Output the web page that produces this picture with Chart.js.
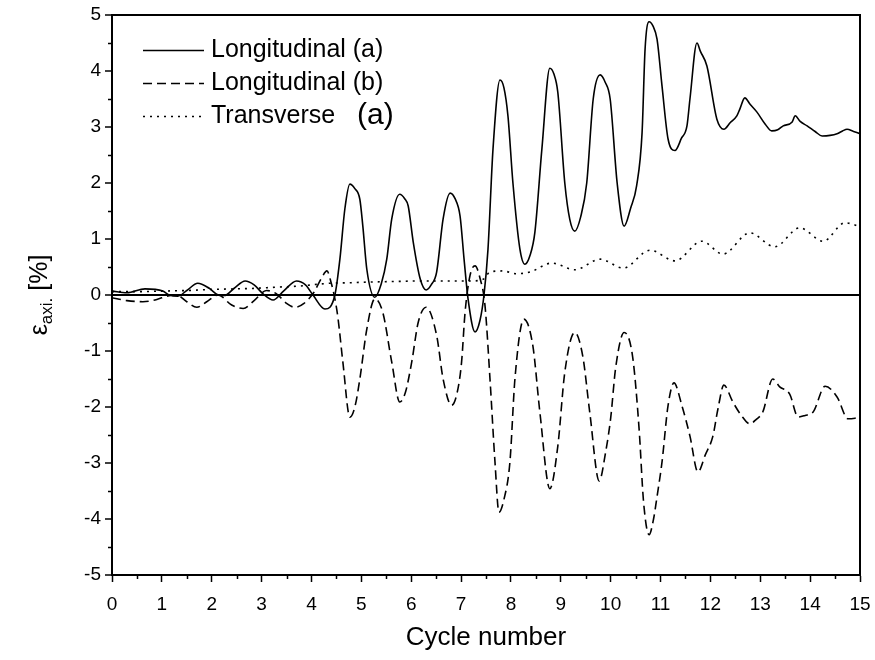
<!DOCTYPE html>
<html>
<head>
<meta charset="utf-8">
<script src="https://cdn.jsdelivr.net/npm/chart.js@4.4.1/dist/chart.umd.min.js"></script>
<style>
  html, body { margin: 0; padding: 0; background: #fff; }
  #wrap { width: 875px; height: 660px; }
</style>
</head>
<body>
<div id="wrap"><canvas id="strainChart" width="875" height="660"></canvas></div>
<script>
/***************************************************/
/********************* DATA ************************/
/***************************************************/
const seriesNames = ['Longitudinal (a)', 'Longitudinal (b)', 'Transverse'];
const xTicks = [0, 1, 2, 3, 4, 5, 6, 7, 8, 9, 10, 11, 12, 13, 14, 15];
const yTicks = [-5, -4, -3, -2, -1, 0, 1, 2, 3, 4, 5];

// Longitudinal (a) - solid
const longAx = [0, 0.3, 0.66, 1.02, 1.15, 1.32, 1.5, 1.72, 1.95, 2.13, 2.25, 2.45, 2.67, 2.85, 3.03, 3.23, 3.45, 3.7, 3.88, 4.03, 4.27, 4.47,
  4.57, 4.67, 4.77, 4.87, 4.97, 5.03, 5.11, 5.27, 5.4, 5.51, 5.61, 5.77, 5.87, 5.94, 6.04, 6.18, 6.3, 6.4, 6.51, 6.64, 6.78, 6.88, 6.98,
  7.06, 7.14, 7.28, 7.38, 7.46, 7.54, 7.64, 7.78, 7.86, 7.94, 8.04, 8.18, 8.28, 8.38, 8.48, 8.62, 8.78, 8.86, 8.94, 9.08, 9.18, 9.28,
  9.4, 9.52, 9.65, 9.79, 9.89, 9.99, 10.13, 10.27, 10.4, 10.52, 10.63, 10.69, 10.77, 10.85, 10.93, 11.03, 11.15, 11.29, 11.42, 11.53,
  11.59, 11.73, 11.8, 11.93, 12.13, 12.27, 12.4, 12.53, 12.59, 12.69, 12.8, 12.93, 13.1, 13.23, 13.35, 13.46, 13.64, 13.7, 13.8, 13.94,
  14.1, 14.24, 14.4, 14.54, 14.65, 14.74, 14.87, 15];
const longAy = [0.07, 0.04, 0.11, 0.07, 0.0, -0.02, 0.08, 0.21, 0.12, 0.0, -0.01, 0.12, 0.25, 0.18, 0.02, -0.09, 0.08, 0.25, 0.18, 0.0, -0.25, 0.0,
  0.64, 1.54, 1.98, 1.9, 1.71, 1.23, 0.46, -0.04, 0.2, 0.64, 1.36, 1.8, 1.72, 1.59, 0.95, 0.29, 0.09, 0.18, 0.41, 1.36, 1.82, 1.72, 1.41,
  0.64, -0.07, -0.66, -0.45, 0.0, 0.82, 2.6, 3.84, 3.7, 3.2, 2.0, 0.82, 0.55, 0.7, 1.12, 2.6, 4.05, 3.95, 3.62, 2.0, 1.35, 1.14,
  1.4, 2.0, 3.5, 3.93, 3.8, 3.5, 2.0, 1.23, 1.55, 1.95, 2.9, 4.39, 4.88, 4.8, 4.57, 3.73, 2.79, 2.58, 2.8, 3.02,
  3.5, 4.5, 4.35, 4.09, 3.14, 2.96, 3.08, 3.2, 3.32, 3.52, 3.4, 3.27, 3.05, 2.93, 2.95, 3.02, 3.09, 3.2, 3.1, 3.02,
  2.92, 2.84, 2.85, 2.88, 2.93, 2.96, 2.92, 2.88];

// Longitudinal (b) - dashed
const longBx = [0, 0.3, 0.62, 0.9, 1.1, 1.3, 1.5, 1.7, 1.9, 2.13, 2.4, 2.63, 2.85, 3.1, 3.3, 3.5, 3.67, 3.85, 4.05, 4.2, 4.31, 4.4, 4.47,
  4.53, 4.63, 4.77, 4.87, 4.97, 5.11, 5.27, 5.43, 5.61, 5.77, 5.88, 6.01, 6.14, 6.3, 6.51, 6.64, 6.81, 6.92, 7.01, 7.08, 7.18, 7.28, 7.38,
  7.48, 7.58, 7.68, 7.76, 7.86, 7.98, 8.08, 8.26, 8.44, 8.58, 8.78, 8.94, 9.08, 9.28, 9.44, 9.58, 9.77, 9.9, 10.0, 10.1, 10.27, 10.44,
  10.57, 10.66, 10.77, 10.86, 10.93, 11.03, 11.15, 11.27, 11.43, 11.59, 11.75, 11.9, 12.05, 12.15, 12.27, 12.45, 12.62, 12.79, 12.92,
  13.05, 13.25, 13.39, 13.59, 13.76, 13.9, 14.06, 14.3, 14.54, 14.76, 14.9, 15];
const longBy = [-0.05, -0.1, -0.12, -0.08, -0.02, 0.0, -0.12, -0.22, -0.12, 0.0, -0.18, -0.24, -0.1, 0.08, 0.02, -0.15, -0.22, -0.15, 0.05, 0.3, 0.43, 0.2, -0.07,
  -0.4, -1.2, -2.18, -2.0, -1.5, -0.61, -0.07, -0.31, -1.2, -1.91, -1.75, -1.2, -0.49, -0.22, -0.72, -1.5, -1.97, -1.75, -1.2, -0.31, 0.35, 0.52, 0.3,
  -0.19, -1.5, -2.98, -3.88, -3.65, -2.98, -1.5, -0.43, -0.91, -2.09, -3.46, -2.7, -1.38, -0.67, -1.09, -2.09, -3.32, -2.8, -2.2, -1.3, -0.67, -1.1,
  -2.39, -3.7, -4.28, -4.0, -3.6, -2.98, -1.98, -1.57, -1.98, -2.52, -3.16, -2.85, -2.52, -2.04, -1.61, -1.91, -2.15, -2.3, -2.22,
  -2.09, -1.5, -1.64, -1.77, -2.18, -2.15, -2.09, -1.63, -1.82, -2.21, -2.2, -2.18];

// Transverse - dotted
const transX = [0, 0.5, 1, 1.5, 2, 2.5, 2.9, 3.3, 3.77, 4.1, 4.37, 4.8, 5.1, 5.6, 6.18, 6.7, 7.18, 7.44, 7.58, 7.84, 8.1, 8.38, 8.82,
  9.28, 9.79, 10.25, 10.79, 11.29, 11.83, 12.25, 12.79, 13.29, 13.79, 14.26, 14.7, 15];
const transY = [0.06, 0.06, 0.07, 0.08, 0.1, 0.11, 0.12, 0.14, 0.16, 0.19, 0.21, 0.22, 0.23, 0.24, 0.25, 0.25, 0.25, 0.28, 0.41, 0.43, 0.38, 0.41, 0.57,
  0.45, 0.64, 0.48, 0.8, 0.61, 0.96, 0.73, 1.11, 0.86, 1.2, 0.96, 1.29, 1.22];

/***************************************************/
/******************** HELPERS **********************/
/***************************************************/
const FONT = '"Liberation Sans", Arial, sans-serif';

function toPoints(xs, ys) {
    return xs.map((x, i) => ({ x: x, y: ys[i] }));
}

// minor ticks, plot frame, y title with subscript and the inside legend
const extrasPlugin = {
    id: 'extras',
    afterDraw(chart) {
        const ctx = chart.ctx;
        const area = chart.chartArea;
        const xs = chart.scales.x;
        const ys = chart.scales.y;
        ctx.save();
        ctx.strokeStyle = '#000';
        ctx.lineWidth = 1.5;

        // minor ticks at the half units
        ctx.beginPath();
        for (let i = 0; i < xTicks.length - 1; i++) {
            const px = Math.round(xs.getPixelForValue(xTicks[i] + 0.5)) + 0.5;
            ctx.moveTo(px, area.bottom);
            ctx.lineTo(px, area.bottom + 4);
        }
        for (let i = 0; i < yTicks.length - 1; i++) {
            const py = Math.round(ys.getPixelForValue(yTicks[i] + 0.5)) + 0.5;
            ctx.moveTo(area.left, py);
            ctx.lineTo(area.left - 4, py);
        }
        ctx.stroke();

        // frame top / right
        ctx.lineWidth = 2;
        ctx.beginPath();
        ctx.moveTo(area.left, area.top);
        ctx.lineTo(area.right, area.top);
        ctx.lineTo(area.right, area.bottom);
        ctx.stroke();

        // y axis title: epsilon with subscript "axi."
        ctx.fillStyle = '#000';
        ctx.translate(40, (area.top + area.bottom) / 2);
        ctx.rotate(-Math.PI / 2);
        ctx.textBaseline = 'middle';
        const big = '25px ' + FONT;
        const small = '17px ' + FONT;
        ctx.font = big;
        const w1 = ctx.measureText('\u03B5').width;
        const w3 = ctx.measureText(' [%]').width;
        ctx.font = small;
        const w2 = ctx.measureText('axi.').width;
        let x0 = -(w1 + w2 + w3) / 2;
        ctx.font = big;
        ctx.textAlign = 'left';
        ctx.fillText('\u03B5', x0, 0);
        ctx.font = small;
        ctx.fillText('axi.', x0 + w1, 7);
        ctx.font = big;
        ctx.fillText(' [%]', x0 + w1 + w2, 0);
        ctx.restore();

        // legend inside the plot
        ctx.save();
        const rowsY = [50, 83, 116];
        chart.data.datasets.forEach((ds, i) => {
            ctx.strokeStyle = '#000';
            ctx.lineWidth = ds.borderWidth;
            ctx.setLineDash(ds.borderDash || []);
            ctx.beginPath();
            ctx.moveTo(143, rowsY[i] + 0.5);
            ctx.lineTo(204, rowsY[i] + 0.5);
            ctx.stroke();
            ctx.setLineDash([]);
            ctx.fillStyle = '#000';
            ctx.font = '25px ' + FONT;
            ctx.textBaseline = 'middle';
            ctx.textAlign = 'left';
            ctx.fillText(ds.label, 211, rowsY[i]);
        });
        ctx.font = '30px ' + FONT;
        ctx.fillText('(a)', 357, rowsY[2]);
        ctx.restore();
    }
};

/***************************************************/
/********************* CHART ***********************/
/***************************************************/
function drawStrainChart() {
    const canvas = document.getElementById('strainChart').getContext('2d');
    const chart = new Chart(canvas, {
        type: 'line',
        data: {
            datasets: [
                {
                    label: seriesNames[0],
                    data: toPoints(longAx, longAy),
                    borderColor: '#000',
                    borderWidth: 1.6,
                    borderDash: [],
                },
                {
                    label: seriesNames[1],
                    data: toPoints(longBx, longBy),
                    borderColor: '#000',
                    borderWidth: 1.6,
                    borderDash: [9, 5],
                },
                {
                    label: seriesNames[2],
                    data: toPoints(transX, transY),
                    borderColor: '#000',
                    borderWidth: 1.6,
                    borderDash: [2, 5],
                }
            ]
        },
        options: {
            responsive: false,
            animation: false,
            events: [],
            elements: {
                point: { radius: 0 },
                line: { cubicInterpolationMode: 'monotone', fill: false }
            },
            layout: { padding: { left: 0, right: 15, top: 15, bottom: 0 } },
            plugins: {
                legend: { display: false },
                tooltip: { enabled: false }
            },
            scales: {
                x: {
                    type: 'linear',
                    min: 0,
                    max: 15,
                    afterFit: (s) => { s.height = 85; s.paddingLeft = 0; s.paddingRight = 0; },
                    afterBuildTicks: (s) => { s.ticks = xTicks.map(v => ({ value: v })); },
                    ticks: {
                        color: '#000',
                        font: { family: FONT, size: 19 },
                        padding: 11,
                        maxRotation: 0,
                        autoSkip: false
                    },
                    grid: {
                        drawOnChartArea: false,
                        drawTicks: true,
                        tickLength: 7,
                        tickColor: '#000',
                        tickWidth: 1.5
                    },
                    border: { display: true, color: '#000', width: 2 },
                    title: {
                        display: true,
                        text: 'Cycle number',
                        color: '#000',
                        font: { family: FONT, size: 26 },
                        padding: { top: 4, bottom: 7 }
                    }
                },
                y: {
                    min: -5,
                    max: 5,
                    afterFit: (s) => { s.width = 112; s.paddingTop = 0; s.paddingBottom = 0; },
                    afterBuildTicks: (s) => { s.ticks = yTicks.map(v => ({ value: v })); },
                    ticks: {
                        color: '#000',
                        font: { family: FONT, size: 19 },
                        padding: 4
                    },
                    grid: {
                        color: (c) => (c.tick && c.tick.value === 0 ? '#000' : 'rgba(0,0,0,0)'),
                        lineWidth: 2,
                        drawTicks: true,
                        tickLength: 7,
                        tickColor: '#000',
                        tickWidth: 1.5
                    },
                    border: { display: true, color: '#000', width: 2 }
                }
            }
        },
        plugins: [extrasPlugin]
    });
    return chart;
}

drawStrainChart();
</script>
</body>
</html>
